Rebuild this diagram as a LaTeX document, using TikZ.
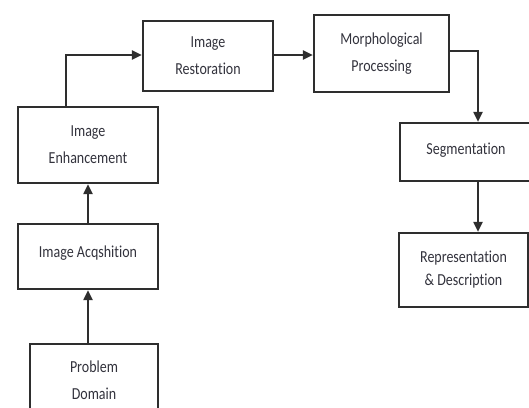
\documentclass[tikz,border=0pt]{standalone}
\usepackage{fontspec}
\setmainfont[Ligatures={NoCommon}]{Carlito}
\usetikzlibrary{arrows.meta}
\definecolor{ln}{HTML}{2E2E2E}
\definecolor{tx}{HTML}{33333D}
\newcommand{\vs}[1]{\scalebox{1}[1.2]{#1}}
\begin{document}
\begin{tikzpicture}[x=1pt,y=-1pt,
  box/.style={draw=ln,line width=2.2pt,fill=white,align=center,inner sep=0pt,
    font=\fontsize{14}{27}\selectfont,text=tx},
  arr/.style={draw=ln,line width=2pt,-{Triangle[length=10pt,width=9pt]}}]
\useasboundingbox (0,0) rectangle (529,407);
\clip (0,0) rectangle (529,407);
\node[box,minimum width=140pt,minimum height=76pt] (enh) at (88,145) {\vs{Image}\\\vs{Enhancement}};
\node[box,minimum width=130pt,minimum height=70pt] (rest) at (208,56) {\vs{Image}\\\vs{Restoration}};
\node[box,minimum width=135pt,minimum height=77pt] (morph) at (381.5,53.5) {\vs{Morphological}\\\vs{Processing}};
\node[box,minimum width=132pt,minimum height=58pt] (seg) at (466,152) {\raisebox{6pt}{\vs{Segmentation}}};
\node[box,minimum width=129pt,minimum height=74pt] (rep) at (463.5,270) {\vs{Representation}\\[-4pt]\vs{\& Description}};
\node[box,minimum width=140pt,minimum height=65pt] (acq) at (88,256.5) {\raisebox{9pt}{\vs{Image Acqshition}}};
\node[box,minimum width=128pt,minimum height=72pt] (prob) at (94,380) {\vs{Problem}\\\vs{Domain}};
\coordinate (seguse) at ([xshift=12pt]seg.north);
\coordinate (segout) at ([xshift=12pt]seg.south);
\draw[arr] (prob.north -| acq.south) -- (acq.south);
\draw[arr] (acq.north) -- (enh.south);
\draw[arr] ([xshift=-22pt]enh.north) |- ([yshift=1pt]rest.west);
\draw[arr] ([yshift=1pt]rest.east) -- ([yshift=1pt]rest.east -| morph.west);
\draw[arr] ([yshift=2.5pt]morph.east) -| (seguse);
\draw[arr] (segout) -- (segout |- rep.north);
\end{tikzpicture}
\end{document}
